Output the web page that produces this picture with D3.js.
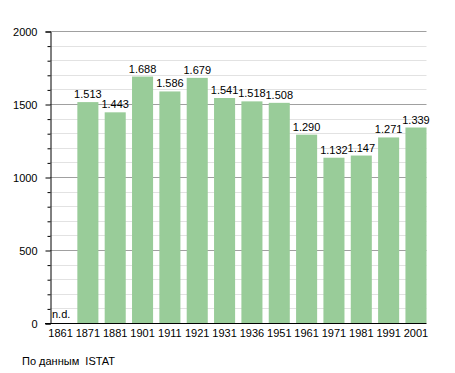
<!DOCTYPE html>
<html><head><meta charset="utf-8">
<script src="https://cdn.jsdelivr.net/npm/d3@7"></script>
<style>body{margin:0;background:#fff;font-family:"Liberation Sans",Arial,sans-serif;}</style>
</head><body><svg id="c" width="455" height="373"></svg>
<script>
const years = ["1861","1871","1881","1901","1911","1921","1931","1936","1951","1961","1971","1981","1991","2001"];
const population = [null,1513,1443,1688,1586,1679,1541,1518,1508,1290,1132,1147,1271,1339];
const yTicks = [0,500,1000,1500,2000];
const sourceNote = "По данным  ISTAT";

const svg = d3.select("#c");
const L = 50, R = 426.5, T = 31, B = 323;
const x = d3.scaleBand().domain(years).range([L, R]).paddingInner(0.23).paddingOuter(0).align(0);
const y = d3.scaleLinear().domain([0, 2000]).range([B, T]);
const fmt = v => d3.format(",")(v).replace(",", ".");
const minor = d3.range(100, 2001, 100).filter(v => v % 500 !== 0);

// minor grid
svg.append("g").selectAll("line").data(minor)
  .join("line").attr("x1", L).attr("x2", R).attr("y1", d => Math.round(y(d)) + 0.5).attr("y2", d => Math.round(y(d)) + 0.5)
  .attr("stroke", "#e2e2e2").attr("stroke-width", 1);
// major grid
svg.append("g").selectAll("line").data(yTicks.filter(v => v > 0))
  .join("line").attr("x1", L).attr("x2", R).attr("y1", d => Math.round(y(d)) + 0.5).attr("y2", d => Math.round(y(d)) + 0.5)
  .attr("stroke", "#a0a0a0").attr("stroke-width", 1);

const rows = years.map((yr, i) => ({yr, v: population[i]})).filter(d => d.v != null);
// bars
svg.append("g").selectAll("rect").data(rows)
  .join("rect").attr("x", d => x(d.yr)).attr("width", x.bandwidth())
  .attr("y", d => y(d.v)).attr("height", d => B - y(d.v)).attr("fill", "#99cc99");

// value labels
svg.append("g").selectAll("text").data(rows)
  .join("text").attr("x", d => x(d.yr) + x.bandwidth() / 2).attr("y", d => y(d.v) - 4)
  .attr("text-anchor", "middle").attr("font-size", 11).attr("fill", "#000").text(d => fmt(d.v));

// n.d.
svg.append("text").attr("x", x("1861") + 2).attr("y", B - 5).attr("font-size", 11).text("n.d.");

// y axis
const yAxis = d3.axisLeft(y).tickValues(yTicks).tickSize(5).tickFormat(d3.format("d"));
const ga = svg.append("g").attr("transform", `translate(${L + 0.5},0.5)`).call(yAxis);
ga.select(".domain").attr("stroke", "#000");
ga.selectAll("text").attr("font-size", 11).attr("font-family", "Liberation Sans, Arial, sans-serif").attr("x", -13);
const yMinor = d3.axisLeft(y).tickValues(minor).tickSize(3).tickFormat("");
const gm = svg.append("g").attr("transform", `translate(${L + 0.5},0.5)`).call(yMinor);
gm.select(".domain").remove();

// x axis
const xAxis = d3.axisBottom(x).tickSize(0).tickPadding(6);
const gx = svg.append("g").attr("transform", `translate(0,${B + 0.5})`).call(xAxis);
gx.select(".domain").remove();
gx.selectAll("text").attr("font-size", 11).attr("font-family", "Liberation Sans, Arial, sans-serif");
svg.append("line").attr("x1", L - 5).attr("x2", R).attr("y1", B + 0.5).attr("y2", B + 0.5).attr("stroke", "#000");

svg.append("text").attr("x", 22).attr("y", 365).attr("font-size", 11).style("white-space", "pre").text(sourceNote);
</script></body></html>
